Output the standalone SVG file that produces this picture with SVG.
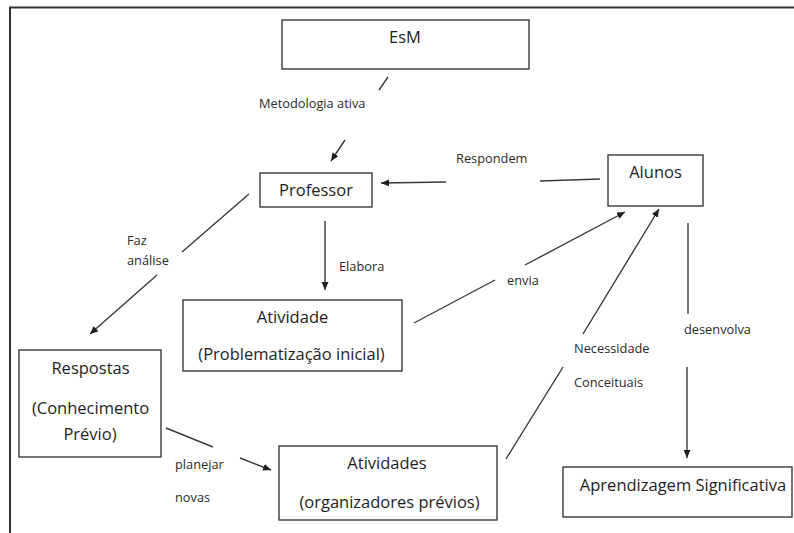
<svg xmlns="http://www.w3.org/2000/svg" width="794" height="533" viewBox="0 0 794 533">
  <style>
    .box { fill: #ffffff; stroke: #3a3a3a; stroke-width: 1.4; }
    .node-text { font-family: "Open Sans", "Liberation Sans", sans-serif; font-size: 16.5px; fill: #1e1e1e; text-anchor: middle; }
    .label { font-family: "Open Sans", "Liberation Sans", sans-serif; font-size: 12.8px; fill: #2a2a2a; }
    .edge { fill: none; stroke: #3a3a3a; stroke-width: 1.4; marker-end: url(#arrow); }
    .frame { fill: none; stroke: #333333; stroke-width: 2; }
  </style>
  <defs>
    <marker id="arrow" markerUnits="userSpaceOnUse" markerWidth="10" markerHeight="8" refX="8" refY="3.5" orient="auto">
      <path d="M0,0 L8,3.5 L0,7 z" fill="#1e1e1e"/>
    </marker>
  </defs>

  <rect width="794" height="533" fill="#ffffff"/>
  <!-- page frame -->
  <path class="frame" d="M10,533 L10,7.5 L794,7.5"/>

  <!-- connectors (each broken where its label sits) -->
  <g id="connectors">
    <path class="edge" d="M388,77 L379,90 M345,140 L331,161"/>
    <path class="edge" d="M600,179 L540,181 M446,182 L381,183"/>
    <path class="edge" d="M249,194 L182,252 M157,275 L90,334"/>
    <path class="edge" d="M325,221 L325,290"/>
    <path class="edge" d="M414,323 L495,280 M525,265 L625,212"/>
    <path class="edge" d="M506,459 L563,367 M583,334 L659,209"/>
    <path class="edge" d="M688,223 L688,314 M687,367 L687,458"/>
    <path class="edge" d="M166,428 L213,447 M240,458 L271,470"/>
  </g>

  <!-- connector labels -->
  <g id="labels">
    <text class="label" x="259" y="108">Metodologia ativa</text>
    <text class="label" x="456" y="163">Respondem</text>
    <text class="label" x="127" y="245">Faz</text>
    <text class="label" x="127" y="265">análise</text>
    <text class="label" x="339" y="271">Elabora</text>
    <text class="label" x="507" y="285">envia</text>
    <text class="label" x="574" y="353">Necessidade</text>
    <text class="label" x="574" y="387">Conceituais</text>
    <text class="label" x="684" y="334">desenvolva</text>
    <text class="label" x="175" y="469">planejar</text>
    <text class="label" x="175" y="502">novas</text>
  </g>

  <g id="esm">
    <rect class="box" x="282" y="20" width="247" height="49"/>
    <text class="node-text" x="405" y="43">EsM</text>
  </g>

  <g id="professor">
    <rect class="box" x="260" y="173" width="112" height="34"/>
    <text class="node-text" x="316" y="196">Professor</text>
  </g>

  <g id="alunos">
    <rect class="box" x="608" y="155" width="95" height="51"/>
    <text class="node-text" x="655.5" y="178">Alunos</text>
  </g>

  <g id="atividade">
    <rect class="box" x="183" y="300" width="219" height="71"/>
    <text class="node-text" x="292.5" y="323">Atividade</text>
    <text class="node-text" x="291.5" y="360">(Problematização inicial)</text>
  </g>

  <g id="respostas">
    <rect class="box" x="19" y="350" width="142" height="107"/>
    <text class="node-text" x="90.5" y="374">Respostas</text>
    <text class="node-text" x="90.5" y="414">(Conhecimento</text>
    <text class="node-text" x="90" y="440">Prévio)</text>
  </g>

  <g id="atividades">
    <rect class="box" x="279" y="446" width="218" height="74"/>
    <text class="node-text" x="387" y="469">Atividades</text>
    <text class="node-text" x="389.5" y="508">(organizadores prévios)</text>
  </g>

  <g id="aprendizagem">
    <rect class="box" x="563" y="467" width="229" height="50"/>
    <text class="node-text" x="683" y="491">Aprendizagem Significativa</text>
  </g>
</svg>
